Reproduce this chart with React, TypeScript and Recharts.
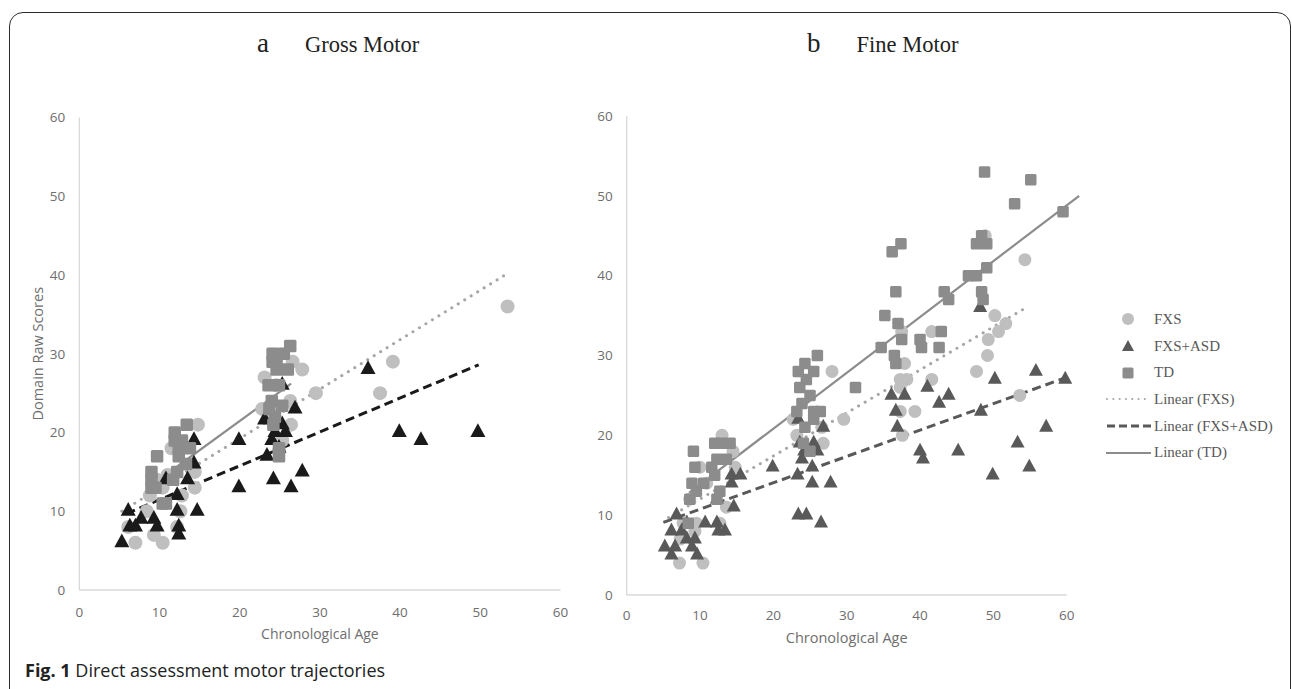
import { Label, ReferenceLine, Scatter, ScatterChart, XAxis, YAxis } from 'recharts';

type Pair = [number, number];

// ages (months) and raw scores
const grossFxs: Pair[] = [
  [7, 6], [10.4, 6], [9.3, 7], [6.1, 8], [8.4, 10], [9.7, 14], [10.4, 13], [12.2, 8], [12.6, 10],
  [12.8, 12], [14.4, 15], [14.4, 13], [14.8, 21], [11.5, 18], [8.8, 12], [11, 14.6], [23.1, 27],
  [26.6, 29], [27.8, 28], [29.5, 25], [39.1, 29], [37.5, 25], [53.4, 36], [22.8, 23], [24, 21.6],
  [26.4, 21], [26.3, 24], [25.3, 19], [24.9, 17.7], [24.6, 26],
];
const grossAsd: Pair[] = [
  [5.3, 6], [6.1, 10], [6.3, 8], [7, 8], [7.7, 9], [9.3, 9], [9.7, 8], [10.8, 14], [12.2, 12],
  [12.2, 10], [12.4, 8], [12.4, 7], [13.5, 14], [14.3, 19], [14.3, 16], [14.7, 10], [19.9, 19],
  [19.9, 13], [23.4, 17], [23.1, 21.6], [24, 19], [24.2, 14], [25.3, 21], [25.7, 20], [25.3, 26],
  [26.4, 13], [26.9, 23], [27.8, 15], [24.9, 18], [24.4, 20], [36, 28], [39.9, 20], [42.6, 19],
  [49.7, 20],
];
const grossTd: Pair[] = [
  [9.7, 17], [9, 15], [9, 14], [9, 13], [9.5, 13], [10.4, 11], [10.8, 11], [11.9, 20], [11.9, 19],
  [12.4, 18], [12.8, 19], [12.4, 17], [13.3, 16], [12.2, 15], [13.4, 21], [13.8, 18], [11.7, 14],
  [24.1, 30], [24.1, 29], [24.6, 29], [25.5, 30], [26, 28], [26.3, 31], [23.6, 26], [24.9, 26],
  [24, 24], [23.7, 23], [24.4, 22], [24.2, 21], [24.9, 18], [24.9, 17], [25.3, 23.4], [24.6, 28],
];

const fineFxs: Pair[] = [
  [54.3, 42], [48.9, 45], [50.2, 35], [51.7, 34], [50.7, 33], [49.3, 32], [49.2, 30], [47.7, 28],
  [53.6, 25], [37.5, 33], [37.9, 29], [37.3, 27], [38.2, 27], [41.6, 33], [41.6, 27], [39.3, 23],
  [37.3, 23], [37.6, 20], [37.3, 26], [28, 28], [29.6, 22], [23.2, 20], [22.7, 22], [26.8, 19],
  [26.6, 21], [13, 20], [14.5, 18], [14.8, 16], [10, 16], [10.9, 14], [8.6, 12], [9.3, 8],
  [9.5, 9], [7.3, 7], [7.2, 4], [10.4, 4], [13.6, 11], [7.7, 9], [12.7, 9],
];
const fineAsd: Pair[] = [
  [48.2, 36], [55.8, 28], [59.8, 27], [50.2, 27], [41, 26], [36.1, 25], [37.9, 25], [43.9, 25],
  [42.6, 24], [36.7, 23], [48.3, 23], [36.9, 21], [57.2, 21], [53.3, 19], [40, 18], [45.2, 18],
  [40.4, 17], [54.9, 16], [49.9, 15], [19.9, 16], [23.3, 15], [23.9, 17], [24.2, 18], [25.3, 16],
  [25.3, 14], [26, 18], [27.8, 14], [23.4, 10], [24.5, 10], [26.5, 9], [25.5, 19], [26.8, 21],
  [23.4, 22], [23.6, 19], [14.3, 15], [15.5, 15], [14.3, 14], [14.6, 11], [12.3, 12], [12.3, 9],
  [13.4, 8], [12.5, 8], [10.7, 9], [9.3, 7], [8.9, 6], [8.2, 7], [7.5, 8], [6.8, 10], [6.1, 8],
  [6.6, 6], [6.1, 5], [5.2, 6], [9.6, 5], [8.2, 9],
];
const fineTd: Pair[] = [
  [48.8, 53], [55.1, 52], [52.9, 49], [59.5, 48], [36.2, 43], [37.4, 44], [36.7, 38], [35.2, 35],
  [37, 34], [37.5, 32], [34.7, 31], [36.5, 30], [36.7, 29], [40, 32], [40.2, 31], [42.6, 31],
  [42.9, 33], [43.3, 38], [43.9, 37], [46.6, 40], [47.7, 40], [47.7, 44], [48.4, 45], [49.1, 44],
  [49.1, 41], [48.4, 38], [48.6, 37], [31.2, 26], [26, 30], [23.4, 28], [24.3, 29], [25.5, 28],
  [23.6, 26], [24.5, 27], [25, 25], [23.9, 24], [26.4, 23], [25.5, 22], [24.3, 21], [24.1, 19],
  [25, 18], [23.2, 23], [25.5, 23], [9.1, 18], [9.3, 16], [8.9, 14], [8.6, 12], [8.4, 9],
  [9.5, 13], [10.5, 14], [12, 19], [12.9, 19], [14.1, 19], [12.3, 17], [13.6, 17], [12, 15],
  [12.7, 13], [12.3, 12], [11.6, 16],
];

// linear trend lines, start and end points
const grossFxsTrend: Pair[] = [[5.3, 10], [53.4, 40.2]];
const grossAsdTrend: Pair[] = [[5.9, 9.7], [49.8, 28.6]];
const grossTdTrend: Pair[] = [[9, 13.3], [26.4, 26.2]];
const fineFxsTrend: Pair[] = [[5.7, 9.7], [54.1, 35.8]];
const fineAsdTrend: Pair[] = [[5, 9.1], [59.8, 27.2]];
const fineTdTrend: Pair[] = [[8.5, 12.8], [61.7, 50]];

const ageTicks = [0, 10, 20, 30, 40, 50, 60];
const scoreTicks = [0, 10, 20, 30, 40, 50, 60];

const toPoints = (rows: Pair[]) => rows.map(([age, score]) => ({ age, score }));
const toSegment = (rows: Pair[]) => rows.map(([x, y]) => ({ x, y }));

const SANS = '"Open Sans", sans-serif';
const SERIF = '"Liberation Serif", "Times New Roman", serif';
const TICK = '#6e6e6e';
const AXIS = '#d9d9d9';
const FXS_FILL = '#bfbfbf';
const TD_FILL = '#8c8c8c';

const circleShape = (r: number, fill: string) => (p: any) => (
  <circle cx={p.cx} cy={p.cy} r={r} fill={fill} />
);
const triangleShape = (w: number, fill: string) => (p: any) => {
  const h = w * 0.92;
  return (
    <path
      d={`M${p.cx},${p.cy - (h * 2) / 3}L${p.cx + w / 2},${p.cy + h / 3}L${p.cx - w / 2},${p.cy + h / 3}Z`}
      fill={fill}
    />
  );
};
const squareShape = (s: number, fill: string) => (p: any) => (
  <rect x={p.cx - s / 2} y={p.cy - s / 2} width={s} height={s} rx={1.5} fill={fill} />
);

const yTitle = (cx: number) => (props: any) => {
  const vb = props.viewBox || { y: 0, height: 0 };
  const cy = vb.y + vb.height / 2;
  return (
    <text
      x={cx}
      y={cy}
      transform={`rotate(-90 ${cx} ${cy})`}
      textAnchor="middle"
      dominantBaseline="central"
      fill={TICK}
      fontSize={14.5}
      fontFamily={SANS}
    >
      Domain Raw Scores
    </text>
  );
};

type PanelProps = {
  left: number;
  width: number;
  margin: { top: number; right: number; bottom: number; left: number };
  fxs: Pair[];
  asd: Pair[];
  td: Pair[];
  fxsTrend: Pair[];
  asdTrend: Pair[];
  tdTrend: Pair[];
  asdColor: string;
  marker: number;
  xTickMargin: number;
  xLabelOffset: number;
  xLabelSize: number;
  showYTitle?: boolean;
};

const Panel = (p: PanelProps) => (
  <div style={{ position: 'absolute', left: p.left, top: 0 }}>
    <ScatterChart width={p.width} height={660} margin={p.margin}>
      <XAxis
        type="number"
        dataKey="age"
        domain={[0, 60]}
        ticks={ageTicks}
        axisLine={{ stroke: AXIS, strokeWidth: 1.3 }}
        tickLine={false}
        tickSize={0}
        tickMargin={p.xTickMargin}
        height={30}
        tick={{ fill: TICK, fontSize: 13.5, fontFamily: SANS }}
      >
        <Label
          value="Chronological Age"
          position="bottom"
          offset={p.xLabelOffset}
          fill={TICK}
          fontSize={p.xLabelSize}
          fontFamily={SANS}
        />
      </XAxis>
      <YAxis
        type="number"
        dataKey="score"
        domain={[0, 60]}
        ticks={scoreTicks}
        axisLine={{ stroke: AXIS, strokeWidth: 1.3 }}
        tickLine={false}
        tickSize={0}
        tickMargin={14}
        width={30}
        tick={{ fill: TICK, fontSize: 13.5, fontFamily: SANS }}
      >
        {p.showYTitle && <Label content={yTitle(37)} />}
      </YAxis>
      <Scatter
        name="FXS"
        data={toPoints(p.fxs)}
        shape={circleShape(p.marker / 2 + 0.5, FXS_FILL)}
        isAnimationActive={false}
      />
      <Scatter
        name="FXS+ASD"
        data={toPoints(p.asd)}
        shape={triangleShape(p.marker + 2, p.asdColor)}
        isAnimationActive={false}
      />
      <Scatter
        name="TD"
        data={toPoints(p.td)}
        shape={squareShape(p.marker - 0.5, TD_FILL)}
        isAnimationActive={false}
      />
      <ReferenceLine
        segment={toSegment(p.fxsTrend)}
        ifOverflow="visible"
        stroke="#a6a6a6"
        strokeWidth={3}
        strokeDasharray="0.1 7.5"
        strokeLinecap="round"
      />
      <ReferenceLine
        segment={toSegment(p.asdTrend)}
        ifOverflow="visible"
        stroke={p.asdColor}
        strokeWidth={3}
        strokeDasharray="9 5"
      />
      <ReferenceLine
        segment={toSegment(p.tdTrend)}
        ifOverflow="visible"
        stroke={TD_FILL}
        strokeWidth={2.2}
      />
    </ScatterChart>
  </div>
);

const legendRows = [
  { kind: 'circle', label: 'FXS' },
  { kind: 'triangle', label: 'FXS+ASD' },
  { kind: 'square', label: 'TD' },
  { kind: 'dotted', label: 'Linear (FXS)' },
  { kind: 'dashed', label: 'Linear (FXS+ASD)' },
  { kind: 'solid', label: 'Linear (TD)' },
];

const LegendIcon = ({ kind }: { kind: string }) => (
  <svg width={48} height={14} style={{ display: 'block' }}>
    {kind === 'circle' && <circle cx={22} cy={7} r={6} fill={FXS_FILL} />}
    {kind === 'triangle' && <path d="M22,1L28,12L16,12Z" fill="#595959" />}
    {kind === 'square' && <rect x={16.5} y={1.5} width={11} height={11} rx={1.5} fill={TD_FILL} />}
    {kind === 'dotted' && (
      <line x1={1} y1={7} x2={45} y2={7} stroke="#a6a6a6" strokeWidth={2} strokeDasharray="0.1 6.2" strokeLinecap="round" />
    )}
    {kind === 'dashed' && (
      <line x1={1} y1={7} x2={45} y2={7} stroke="#595959" strokeWidth={3} strokeDasharray="8 4" />
    )}
    {kind === 'solid' && <line x1={0} y1={7} x2={45} y2={7} stroke={TD_FILL} strokeWidth={2} />}
  </svg>
);

export default function App() {
  return (
    <div
      style={{
        position: 'absolute',
        left: 0,
        top: 0,
        width: 1292,
        height: 689,
        overflow: 'hidden',
        background: '#fff',
      }}
    >
      <div
        style={{
          position: 'absolute',
          left: 8.5,
          top: 11.5,
          width: 1282,
          height: 720,
          border: '1.6px solid #2b2b2b',
          borderRadius: '14px 14px 0 0',
          boxSizing: 'border-box',
        }}
      />

      <div style={{ position: 'absolute', left: 257, top: 28, fontFamily: SERIF, color: '#222', whiteSpace: 'nowrap' }}>
        <span style={{ fontSize: 27 }}>a</span>
        <span style={{ fontSize: 22.5, marginLeft: 36 }}>Gross Motor</span>
      </div>
      <div style={{ position: 'absolute', left: 807, top: 28, fontFamily: SERIF, color: '#222', whiteSpace: 'nowrap' }}>
        <span style={{ fontSize: 27 }}>b</span>
        <span style={{ fontSize: 22.5, marginLeft: 36 }}>Fine Motor</span>
      </div>

      <Panel
        left={0}
        width={600}
        margin={{ top: 117.5, right: 39.5, bottom: 40, left: 49.3 }}
        fxs={grossFxs}
        asd={grossAsd}
        td={grossTd}
        fxsTrend={grossFxsTrend}
        asdTrend={grossAsdTrend}
        tdTrend={grossTdTrend}
        asdColor="#1a1a1a"
        marker={13}
        xTickMargin={17}
        xLabelOffset={9}
        xLabelSize={14}
        showYTitle
      />
      <Panel
        left={560}
        width={540}
        margin={{ top: 116, right: 33.3, bottom: 35, left: 36.7 }}
        fxs={fineFxs}
        asd={fineAsd}
        td={fineTd}
        fxsTrend={fineFxsTrend}
        asdTrend={fineAsdTrend}
        tdTrend={fineTdTrend}
        asdColor="#595959"
        marker={12}
        xTickMargin={15}
        xLabelOffset={8}
        xLabelSize={14.5}
      />

      <div style={{ position: 'absolute', left: 1106, top: 306 }}>
        {legendRows.map((row) => (
          <div key={row.label} style={{ display: 'flex', alignItems: 'center', height: 26.7 }}>
            <LegendIcon kind={row.kind} />
            <span style={{ fontFamily: SERIF, fontSize: 15, color: '#595959', whiteSpace: 'nowrap' }}>
              {row.label}
            </span>
          </div>
        ))}
      </div>

      <div
        style={{
          position: 'absolute',
          left: 25,
          top: 658,
          fontFamily: SANS,
          fontSize: 18,
          color: '#222',
          whiteSpace: 'nowrap',
        }}
      >
        <b>Fig. 1</b> Direct assessment motor trajectories
      </div>
    </div>
  );
}
